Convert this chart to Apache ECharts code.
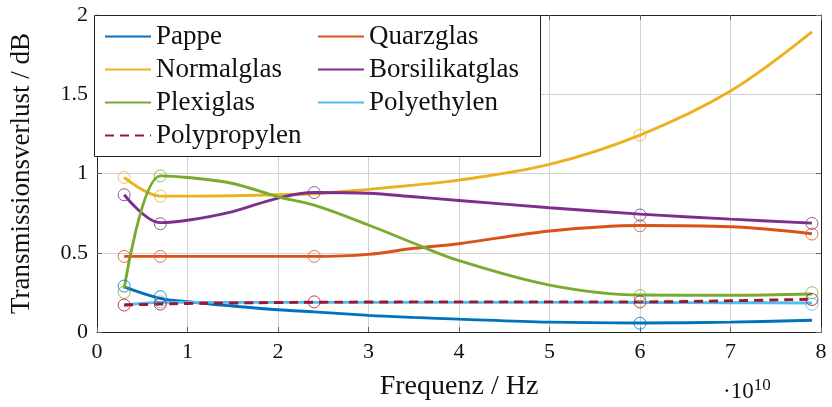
<!DOCTYPE html>
<html lang="de">
<head>
  <meta charset="UTF-8">
  <title>Transmissionsverlust</title>
  <script src="https://cdn.jsdelivr.net/npm/echarts@6/dist/echarts.min.js"></script>
  <style>
    html, body { margin: 0; padding: 0; background: #fff; }
    #main { width: 832px; height: 407px; }
  </style>
</head>
<body>
<div id="main"></div>
<script>
  const chart = echarts.init(document.getElementById('main'));

  // Frequenz in 1e10 Hz (Stützstellen der Kurven)
  const freq = [0.3, 0.7, 1, 1.5, 2, 2.4, 3, 3.5, 4, 5, 6, 7, 7.9];

  const pappe          = [0.285, 0.212, 0.191, 0.164, 0.14, 0.127, 0.105, 0.092, 0.081, 0.062, 0.057, 0.062, 0.074];
  const quarzglas      = [0.477, 0.477, 0.477, 0.477, 0.477, 0.477, 0.49, 0.528, 0.557, 0.637, 0.672, 0.664, 0.62];
  const normalglas     = [0.975, 0.857, 0.857, 0.86, 0.866, 0.872, 0.9, 0.927, 0.958, 1.057, 1.242, 1.52, 1.893];
  const borsilikatglas = [0.866, 0.69, 0.705, 0.76, 0.845, 0.88, 0.875, 0.853, 0.83, 0.784, 0.744, 0.712, 0.687];
  const plexiglas      = [0.275, 0.985, 0.975, 0.937, 0.853, 0.8, 0.675, 0.56, 0.45, 0.296, 0.233, 0.232, 0.24];
  const polyethylen    = [0.17, 0.187, 0.187, 0.187, 0.187, 0.187, 0.187, 0.187, 0.187, 0.187, 0.186, 0.185, 0.183];
  const polypropylen   = [0.17, 0.176, 0.18, 0.183, 0.186, 0.188, 0.189, 0.19, 0.19, 0.19, 0.19, 0.197, 0.207];

  // Messpunkte (Kreise)
  const pappeMess          = [[0.3, 0.29], [0.7, 0.223], [6, 0.055]];
  const quarzglasMess      = [[0.3, 0.477], [0.7, 0.477], [2.4, 0.477], [6, 0.67], [7.9, 0.618]];
  const normalglasMess     = [[0.3, 0.975], [0.7, 0.857], [6, 1.242]];
  const borsilikatglasMess = [[0.3, 0.866], [0.7, 0.683], [2.4, 0.88], [6, 0.738], [7.9, 0.685]];
  const plexiglasMess      = [[0.3, 0.25], [0.7, 0.985], [6, 0.23], [7.9, 0.248]];
  const polyethylenMess    = [[0.7, 0.19], [7.9, 0.175]];
  const polypropylenMess   = [[0.3, 0.17], [0.7, 0.176], [2.4, 0.19], [6, 0.19], [7.9, 0.205]];

  const names = ['Pappe', 'Quarzglas', 'Normalglas', 'Borsilikatglas', 'Plexiglas', 'Polyethylen', 'Polypropylen'];
  const curves = [pappe, quarzglas, normalglas, borsilikatglas, plexiglas, polyethylen, polypropylen];
  const marks = [pappeMess, quarzglasMess, normalglasMess, borsilikatglasMess, plexiglasMess, polyethylenMess, polypropylenMess];
  const colors = ['#0072BD', '#D95319', '#EDB120', '#7E2F8E', '#77AC30', '#4DBEEE', '#A2142F'];

  const font = '"Liberation Serif", "DejaVu Serif", serif';

  const lineSeries = names.map((name, i) => ({
    name: name,
    type: 'line',
    smooth: 0.35,
    symbol: 'none',
    color: colors[i],
    z: 2,
    lineStyle: {
      width: 2.9,
      color: colors[i],
      type: name === 'Polypropylen' ? [9, 6] : 'solid'
    },
    data: freq.map((f, k) => [f, curves[i][k]])
  }));

  const markSeries = names.map((name, i) => ({
    name: name + ' Messung',
    type: 'scatter',
    symbol: 'circle',
    symbolSize: 12,
    z: 3,
    itemStyle: { color: 'rgba(0,0,0,0)', borderColor: colors[i], borderWidth: 1 },
    data: marks[i]
  }));

  const tickStyle = { show: true, inside: true, length: 5, lineStyle: { color: '#666' } };
  const lineAxis = { show: true, onZero: false, lineStyle: { color: '#222', width: 1 } };
  const legendBase = {
    orient: 'vertical', top: 18, z: 12,
    itemWidth: 46, itemHeight: 14, itemGap: 6,
    itemStyle: { color: 'rgba(0,0,0,0)', borderWidth: 0 },
    textStyle: { fontFamily: font, fontSize: 27, lineHeight: 27, color: '#111' }
  };

  chart.setOption({
    animation: false,
    textStyle: { fontFamily: font },
    title: {
      text: '·10{s|10}',
      left: 718,
      top: 372,
      textStyle: {
        fontFamily: font, fontSize: 23, fontWeight: 'normal', color: '#111',
        rich: { s: { fontFamily: font, fontSize: 17, color: '#111', padding: [0, 0, 12, 0] } }
      }
    },
    grid: { left: 94, right: 11, top: 15, bottom: 75 },
    legend: [
      Object.assign({ data: ['Pappe', 'Normalglas', 'Plexiglas', 'Polypropylen'], left: 99 }, legendBase),
      Object.assign({ data: ['Quarzglas', 'Borsilikatglas', 'Polyethylen'], left: 312 }, legendBase)
    ],
    graphic: [{
      type: 'rect',
      z: 10,
      shape: { x: 94.5, y: 15.5, width: 446, height: 141 },
      style: { fill: '#fff', stroke: '#222', lineWidth: 1 }
    }],
    xAxis: [
      {
        type: 'value', min: 0, max: 8, interval: 1,
        name: 'Frequenz / Hz', nameLocation: 'middle', nameGap: 41,
        nameTextStyle: { fontFamily: font, fontSize: 28, color: '#111' },
        axisLine: lineAxis, axisTick: tickStyle,
        axisLabel: { fontFamily: font, fontSize: 22, color: '#111', margin: 9 },
        splitLine: { show: true, lineStyle: { color: '#d2d2d2', width: 1 } }
      },
      {
        type: 'value', min: 0, max: 8, interval: 1, position: 'top',
        axisLine: lineAxis, axisTick: tickStyle,
        axisLabel: { show: false }, splitLine: { show: false }
      }
    ],
    yAxis: [
      {
        type: 'value', min: 0, max: 2, interval: 0.5,
        name: 'Transmissionsverlust / dB', nameLocation: 'middle', nameGap: 62, nameRotate: 90,
        nameTextStyle: { fontFamily: font, fontSize: 27, color: '#111' },
        axisLine: lineAxis, axisTick: tickStyle,
        axisLabel: { fontFamily: font, fontSize: 22, color: '#111', margin: 9 },
        splitLine: { show: true, lineStyle: { color: '#d2d2d2', width: 1 } }
      },
      {
        type: 'value', min: 0, max: 2, interval: 0.5, position: 'right',
        axisLine: lineAxis, axisTick: tickStyle,
        axisLabel: { show: false }, splitLine: { show: false }
      }
    ],
    series: lineSeries.concat(markSeries)
  });
</script>
</body>
</html>
